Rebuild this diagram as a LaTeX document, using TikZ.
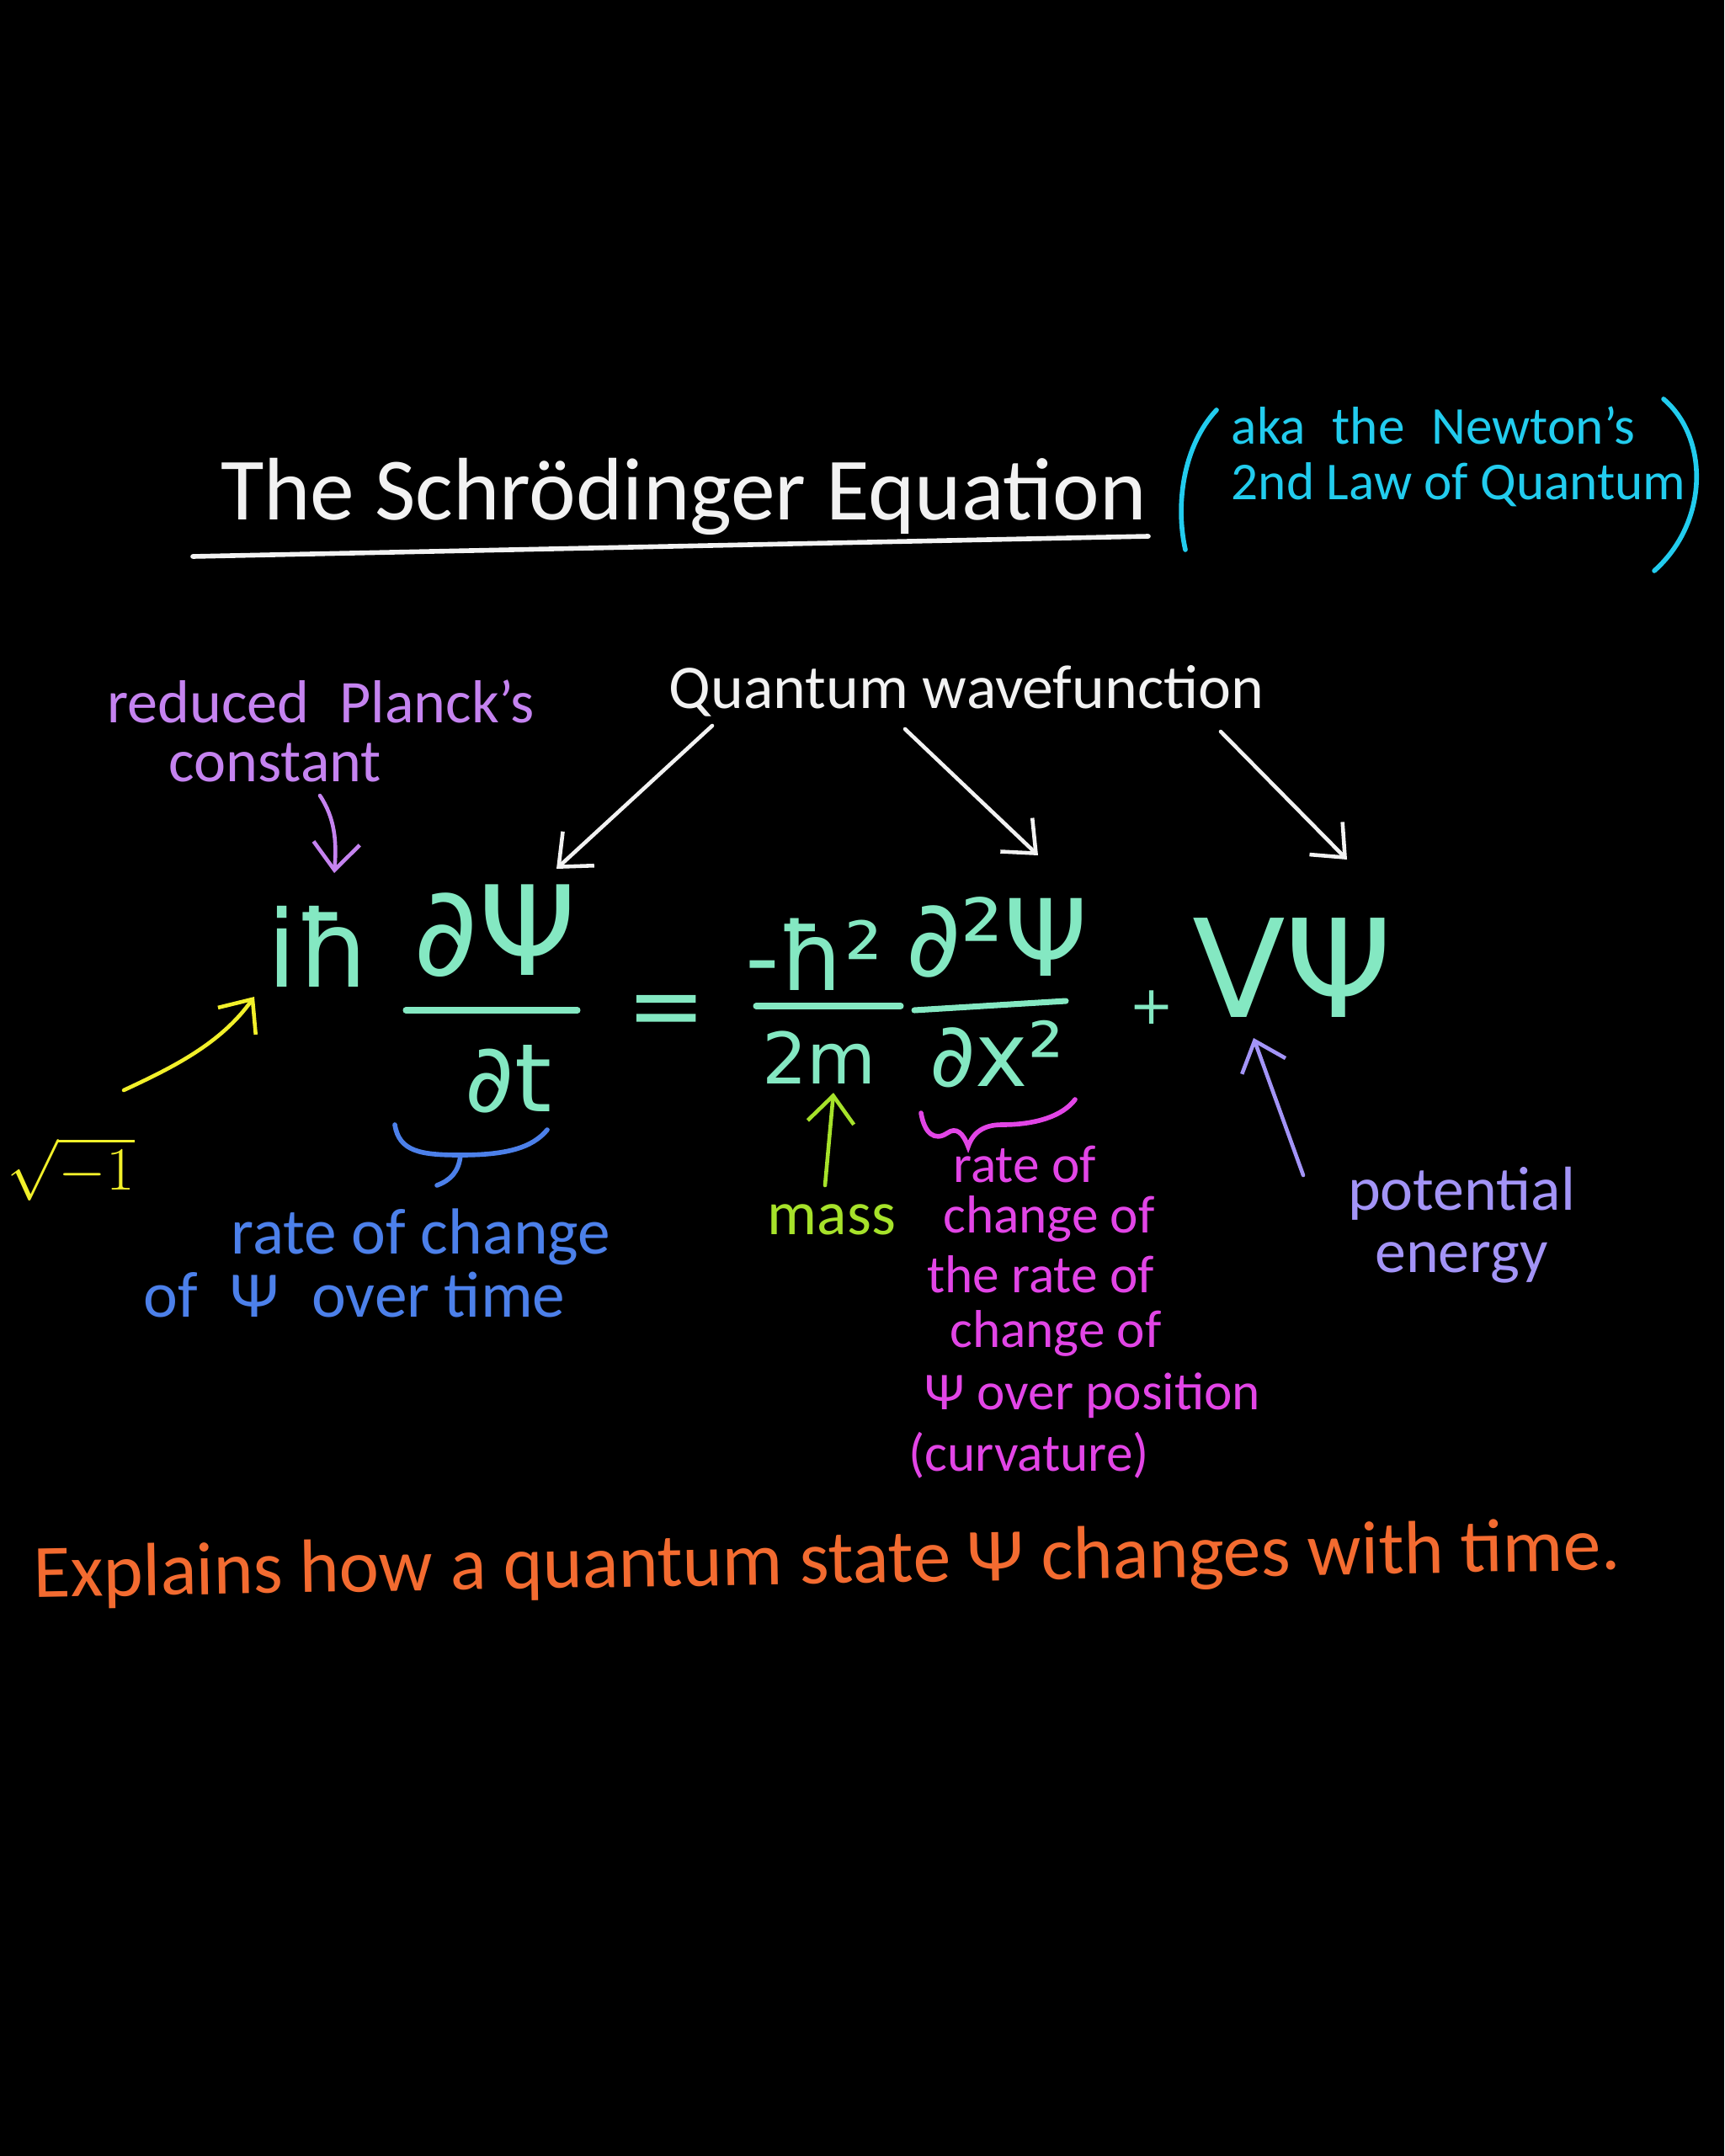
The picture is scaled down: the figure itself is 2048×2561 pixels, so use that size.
\documentclass[tikz,border=0pt]{standalone}
\usepackage{fontspec}
\setmainfont{Carlito}
\newfontfamily\eqfont{DejaVu Sans}
\usepackage{xcolor}
\usepackage{tikz}
\usetikzlibrary{arrows.meta,positioning}
\definecolor{boardBlack}{HTML}{000000}
\definecolor{chalkWhite}{HTML}{F2F2F2}
\definecolor{chalkCyan}{HTML}{22CCEE}
\definecolor{chalkViolet}{HTML}{C583F0}
\definecolor{chalkMint}{HTML}{84E8C2}
\definecolor{chalkYellow}{HTML}{F2F02A}
\definecolor{chalkBlue}{HTML}{4C80EA}
\definecolor{chalkGreen}{HTML}{A6E22A}
\definecolor{chalkMagenta}{HTML}{E245E6}
\definecolor{chalkLavender}{HTML}{A394F7}
\definecolor{chalkOrange}{HTML}{F36B30}
\newcommand{\handsize}[1]{\fontsize{#1}{#1}\selectfont}
\tikzset{
  hand/.style={
    inner sep=0pt,
    align=center,
    anchor=base
  },
  titleText/.style={hand,text=chalkWhite,font=\handsize{30}},
  asideText/.style={hand,text=chalkCyan,font=\fontsize{18}{18.5}\selectfont,align=left,anchor=base west},
  waveText/.style={hand,text=chalkWhite,font=\handsize{21}},
  planckText/.style={hand,text=chalkViolet,font=\handsize{20.5}},
  timeText/.style={hand,text=chalkBlue,font=\handsize{22}},
  massText/.style={hand,text=chalkGreen,font=\handsize{21}},
  curveText/.style={hand,text=chalkMagenta,font=\handsize{18}},
  energyText/.style={hand,text=chalkLavender,font=\fontsize{21}{21}\selectfont},
  summaryText/.style={hand,text=chalkOrange,font=\handsize{25.5}},
  eqPart/.style={hand,text=chalkMint},
  fracBar/.style={
    draw=chalkMint,
    line width=2pt,
    line cap=round
  },
  pointer/.style={
    -{Straight Barb[length=3.2mm,width=5.5mm]},
    line width=1.3pt,
    line cap=round
  },
  chalkLine/.style={
    line width=1.6pt,
    line cap=round
  }
}

\begin{document}
\begin{tikzpicture}[x=0.01cm,y=-0.01cm]
  \fill[boardBlack] (0,0) rectangle (2048,2561);
  \useasboundingbox (0,0) rectangle (2048,2561);

  \node[titleText] (title) at (812,617) {The Schrödinger Equation};
  \draw[chalkLine,draw=chalkWhite] (229,661) -- (1364,637);
  \node[asideText] (aside) at (1462,593) {aka\enspace the\enspace Newton's\\2nd Law of Quantum};
  \draw[chalkLine,draw=chalkCyan] (1445,487) .. controls (1405,530) and (1396,600) .. (1408,653);
  \draw[chalkLine,draw=chalkCyan] (1976,474) .. controls (2030,520) and (2030,620) .. (1965,678);

  \node[waveText] (wave) at (1148,841) {Quantum wavefunction};
  \node[planckText] (planck) at (381,858) {reduced\enspace Planck's};
  \node[planckText] (constant) at (327,928) {constant};

  \node[eqPart,font=\eqfont\handsize{36}] (ihbar) at (379,1172) {iħ};
  \node[eqPart,font=\eqfont\handsize{42}] (dPsi) at (588,1158) {∂Ψ};
  \node[eqPart,font=\eqfont\handsize{32}] (dt) at (604,1320) {∂t};
  \draw[fracBar] (482,1200) -- (686,1200);
  \node[eqPart,font=\eqfont\handsize{32},anchor=center] (equals) at (792,1208) {=};
  \node[eqPart,font=\eqfont\handsize{32}] (hbarSq) at (967,1176) {-ħ²};
  \node[eqPart,font=\eqfont\handsize{24}] (twoM) at (973,1287) {2m};
  \draw[fracBar] (898,1195) -- (1070,1195);
  \node[eqPart,font=\eqfont\handsize{36}] (dSqPsi) at (1184,1159) {∂²Ψ};
  \node[eqPart,font=\eqfont\handsize{30}] (dxSq) at (1184,1290) {∂x²};
  \draw[fracBar] (1086,1200) -- (1266,1189);
  \node[eqPart,font=\eqfont\handsize{18},anchor=center] (plus) at (1368,1197) {+};
  \node[eqPart,font=\eqfont\handsize{46}] (VPsi) at (1535,1208) {VΨ};

  \coordinate (waveA) at (846,862);
  \coordinate (waveB) at (1075,866);
  \coordinate (waveC) at (1450,869);
  \coordinate (psiA) at (661,1032);
  \coordinate (psiB) at (1233,1016);
  \coordinate (psiC) at (1600,1021);
  \draw[pointer,draw=chalkWhite] (waveA) -- (psiA);
  \draw[pointer,draw=chalkWhite] (waveB) -- (psiB);
  \draw[pointer,draw=chalkWhite] (waveC) -- (psiC);

  \coordinate (constantFoot) at (380,945);
  \coordinate (hbarTop) at (397,1037);
  \draw[pointer,draw=chalkViolet] (constantFoot) .. controls (398,972) and (400,1000) .. (hbarTop);

  \node[hand,text=chalkYellow,font=\handsize{21},anchor=base west] (rootMinus) at (8,1413) {$\sqrt{-1}$};
  \coordinate (rootTip) at (147,1295);
  \coordinate (iFoot) at (302,1184);
  \draw[pointer,draw=chalkYellow] (rootTip) .. controls (205,1268) and (262,1240) .. (iFoot);

  \draw[chalkLine,draw=chalkBlue] (469,1336) .. controls (474,1368) and (500,1372) .. (547,1372)
    .. controls (600,1372) and (632,1364) .. (650,1342);
  \draw[chalkLine,draw=chalkBlue] (547,1372) .. controls (545,1392) and (535,1402) .. (519,1408);
  \node[timeText] (timeA) at (500,1489) {rate of change};
  \node[timeText] (timeB) at (421,1564) {of\enspace Ψ\enspace over time};

  \node[massText] (mass) at (988,1466) {mass};
  \coordinate (massTop) at (980,1408);
  \coordinate (mFoot) at (990,1298);
  \draw[pointer,draw=chalkGreen] (massTop) -- (mFoot);

  \draw[chalkLine,draw=chalkMagenta] (1094,1322) .. controls (1098,1346) and (1110,1356) .. (1125,1346)
    .. controls (1136,1338) and (1144,1346) .. (1150,1362)
    .. controls (1156,1344) and (1170,1336) .. (1190,1336)
    .. controls (1230,1336) and (1262,1326) .. (1277,1306);
  \node[curveText] (curveA) at (1217,1404) {rate of};
  \node[curveText] (curveB) at (1246,1464) {change of};
  \node[curveText] (curveC) at (1236,1535) {the rate of};
  \node[curveText] (curveD) at (1254,1600) {change of};
  \node[curveText] (curveE) at (1298,1674) {Ψ over position};
  \node[curveText] (curveF) at (1222,1747) {(curvature)};

  \node[energyText] (energy) at (1736,1511) {potential\\energy};
  \coordinate (energyTop) at (1548,1396);
  \coordinate (vFoot) at (1489,1233);
  \draw[pointer,draw=chalkLavender] (energyTop) -- (vFoot);

  \node[summaryText,rotate=1] (summary) at (983,1881) {Explains how a quantum state Ψ changes with time.};
\end{tikzpicture}
\end{document}
